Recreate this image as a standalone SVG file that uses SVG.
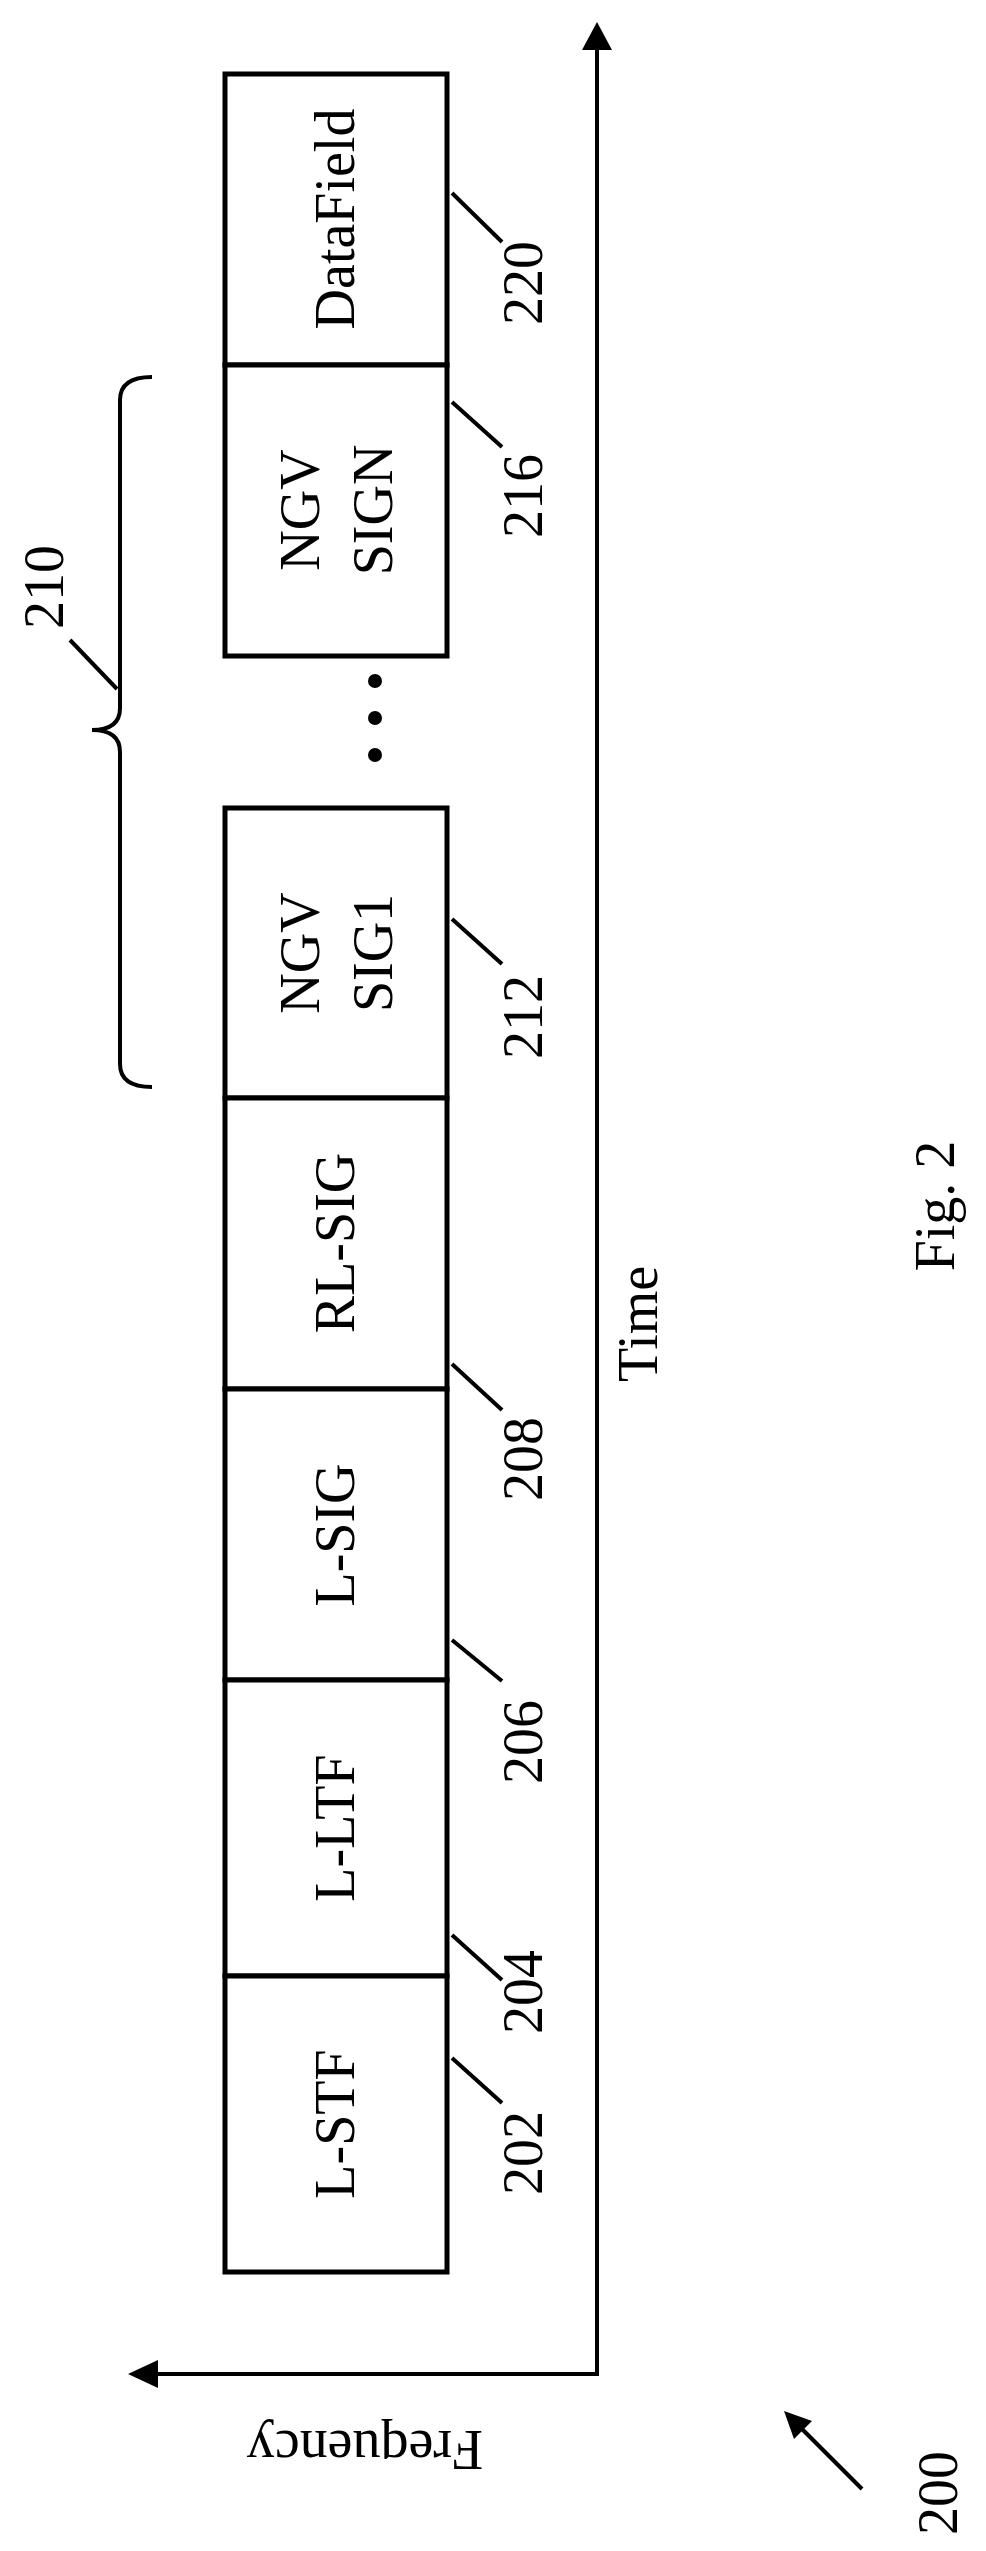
<svg xmlns="http://www.w3.org/2000/svg" width="986" height="2551" viewBox="0 0 986 2551">
<style>
.box{fill:#fff;stroke:#000;stroke-width:5}
.ln{stroke:#000;stroke-width:4;fill:none}
.t{font-family:"Liberation Serif",serif;font-size:56px;fill:#000;text-anchor:middle}
</style>
<rect width="986" height="2551" fill="#fff"/>
<g id="connectors">
<polyline class="ln" points="597,45 597,2374 150,2374"/>
<polygon points="597,22 582,50 612,50" fill="#000"/>
<polygon points="128,2374 158,2360 158,2388" fill="#000"/>
<line class="ln" x1="862" y1="2489" x2="800" y2="2427"/>
<polygon points="784,2411 812,2421 794,2439" fill="#000"/>
<path class="ln" d="M152,377 Q120,377 120,400 L120,708 Q120,730 92,730 Q120,730 120,752 L120,1064 Q120,1087 152,1087"/>
<g class="ln" stroke-width="3">
<line x1="70" y1="640" x2="117" y2="689"/>
<line x1="452" y1="193" x2="502" y2="242"/>
<line x1="452" y1="402" x2="502" y2="447"/>
<line x1="452" y1="919" x2="502" y2="964"/>
<line x1="452" y1="1364" x2="502" y2="1410"/>
<line x1="452" y1="1640" x2="502" y2="1681"/>
<line x1="452" y1="1935" x2="502" y2="1980"/>
<line x1="452" y1="2058" x2="502" y2="2103"/>
</g>
</g>
<g id="datafield"><rect class="box" x="225" y="74" width="222" height="291"/><text class="t" transform="translate(354,219) rotate(-90)">DataField</text></g>
<g id="ngvsign"><rect class="box" x="225" y="365" width="222" height="291"/><text class="t" transform="translate(319,510) rotate(-90)">NGV</text><text class="t" transform="translate(392,510) rotate(-90)">SIGN</text></g>
<g id="dots"><circle cx="375" cy="681" r="7"/><circle cx="375" cy="718" r="7"/><circle cx="375" cy="755" r="7"/></g>
<g id="ngvsig1"><rect class="box" x="225" y="808" width="222" height="290"/><text class="t" transform="translate(319,953) rotate(-90)">NGV</text><text class="t" transform="translate(392,953) rotate(-90)">SIG1</text></g>
<g id="rlsig"><rect class="box" x="225" y="1098" width="222" height="291"/><text class="t" transform="translate(354,1243) rotate(-90)">RL-SIG</text></g>
<g id="lsig"><rect class="box" x="225" y="1389" width="222" height="291"/><text class="t" transform="translate(354,1535) rotate(-90)">L-SIG</text></g>
<g id="lltf"><rect class="box" x="225" y="1680" width="222" height="296"/><text class="t" transform="translate(354,1828) rotate(-90)">L-LTF</text></g>
<g id="lstf"><rect class="box" x="225" y="1976" width="222" height="296"/><text class="t" transform="translate(354,2124) rotate(-90)">L-STF</text></g>
<g id="labels">
<text class="t" transform="translate(63,587) rotate(-90)">210</text>
<text class="t" transform="translate(542,283) rotate(-90)">220</text>
<text class="t" transform="translate(542,496) rotate(-90)">216</text>
<text class="t" transform="translate(542,1017) rotate(-90)">212</text>
<text class="t" transform="translate(542,1459) rotate(-90)">208</text>
<text class="t" transform="translate(542,1742) rotate(-90)">206</text>
<text class="t" transform="translate(542,1992) rotate(-90)">204</text>
<text class="t" transform="translate(542,2153) rotate(-90)">202</text>
<text class="t" transform="translate(657,1324) rotate(-90)">Time</text>
<text class="t" transform="translate(954,1206) rotate(-90)">Fig. 2</text>
<text class="t" transform="translate(957,2493) rotate(-90)">200</text>
<text class="t" transform="translate(365,2431) rotate(180)">Frequency</text>
</g>
</svg>
